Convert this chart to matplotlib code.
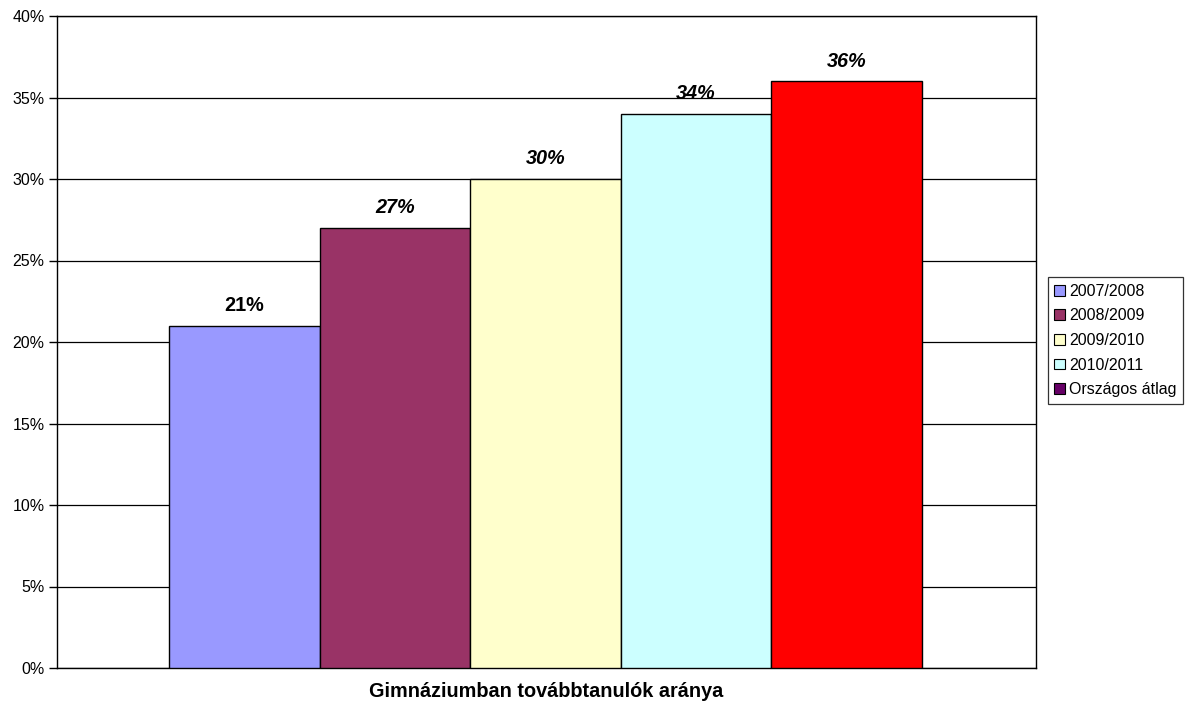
import matplotlib.pyplot as plt
from matplotlib.patches import Patch
from matplotlib.ticker import PercentFormatter

plt.rcParams['font.family'] = ['Liberation Sans', 'DejaVu Sans']

# data
series = ["2007/2008", "2008/2009", "2009/2010", "2010/2011", "Országos átlag"]
values = [21, 27, 30, 34, 36]
bar_colors = ["#9999FF", "#993366", "#FFFFCC", "#CCFFFF", "#FF0000"]
legend_colors = ["#9999FF", "#993366", "#FFFFCC", "#CCFFFF", "#660066"]
label_italic = [False, True, True, True, True]
xlabel = "Gimnáziumban továbbtanulók aránya"

fig = plt.figure(figsize=(11.87, 7.11), dpi=100)
ax = fig.add_axes([57 / 1187, 43 / 711, 979 / 1187, 652 / 711])

pos = list(range(len(values)))
ax.bar(pos, values, width=1.0, color=bar_colors, edgecolor="black", linewidth=1.0, zorder=3)

for x, v, it in zip(pos, values, label_italic):
    ax.annotate(f"{v}%", (x, v), xytext=(0, 14.5), textcoords="offset points",
                ha="center", va="center", fontsize=14.3, fontweight="bold",
                fontstyle="italic" if it else "normal", zorder=4)

ax.set_xlim(-1.2437, 5.257)
ax.set_ylim(0, 40)
ax.set_yticks(range(0, 41, 5))
ax.yaxis.set_major_formatter(PercentFormatter(decimals=0))
ax.tick_params(axis="y", direction="out", length=5.5, width=1, labelsize=11.5, pad=3.5)
ax.tick_params(axis="x", length=0, labelbottom=False)
ax.grid(axis="y", color="black", linewidth=0.9, zorder=0)
for s in ax.spines.values():
    s.set_color("black")
    s.set_linewidth(1.0)

ax.set_xlabel(xlabel, fontsize=14.3, fontweight="bold", labelpad=10)

handles = [Patch(facecolor=c, edgecolor="black", linewidth=0.8) for c in legend_colors]
leg = fig.legend(handles, series, loc="center left", bbox_to_anchor=(1048 / 1187, 1 - 340.5 / 711),
                 fontsize=11.5, frameon=True, fancybox=False, shadow=False,
                 handlelength=0.65, handleheight=0.65, handletextpad=0.25,
                 borderpad=0.4, labelspacing=0.6, borderaxespad=0)
leg.get_frame().set_edgecolor("black")
leg.get_frame().set_linewidth(0.9)

fig.savefig("out.png", dpi=100)
